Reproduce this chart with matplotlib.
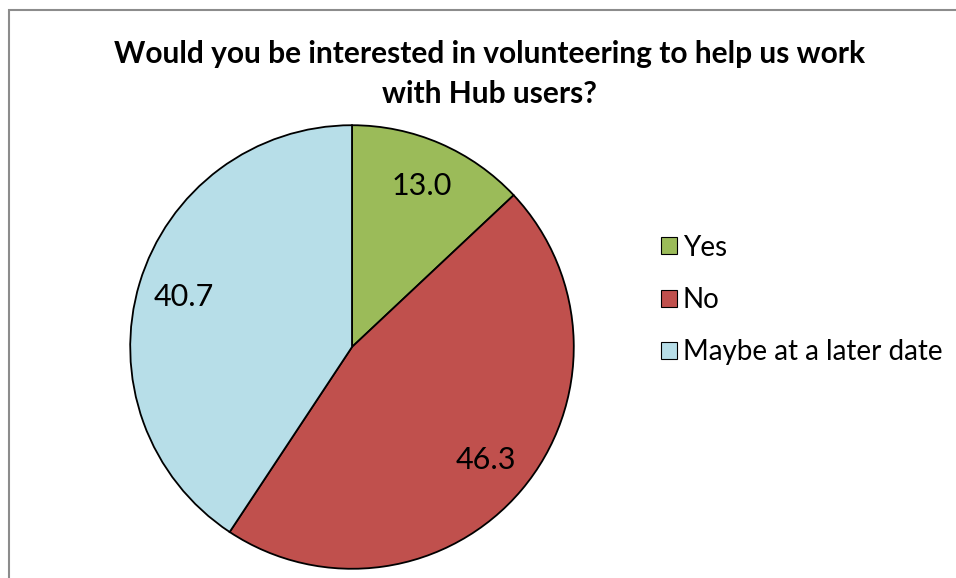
import matplotlib
matplotlib.use("Agg")
import matplotlib.pyplot as plt
from matplotlib.patches import Rectangle, Patch

categories = ["Yes", "No", "Maybe at a later date"]
values = [13.0, 46.3, 40.7]
colors = ["#9BBB59", "#C0504D", "#B7DEE8"]
title = "Would you be interested in volunteering to help us work\nwith Hub users?"

plt.rcParams["font.family"] = ["Lato", "DejaVu Sans"]

W, H = 956, 578
fig = plt.figure(figsize=(W / 100, H / 100), dpi=100)

# outer chart frame (runs off the right and bottom edges)
fig.add_artist(Rectangle((8.5 / W, -0.1), 1.2, 1 - 10.5 / H + 0.1,
                         transform=fig.transFigure, fill=False,
                         edgecolor="#8c8c8c", linewidth=1.5))

cx, cy, r = 352, 347, 224
ax = fig.add_axes([(cx - r) / W, 1 - (cy + r) / H, 2 * r / W, 2 * r / H])
wedges, texts, autotexts = ax.pie(
    values, colors=colors, startangle=90, counterclock=False, radius=1,
    autopct=lambda p: f"{p:.1f}", pctdistance=0.79,
    wedgeprops=dict(edgecolor="black", linewidth=1.3),
    textprops=dict(fontsize=22, color="black"))
ax.set_xlim(-1.01, 1.01)
ax.set_ylim(-1.01, 1.01)
ax.set_aspect("equal")
ax.axis("off")

fig.text(489.5 / W, 1 - 74 / H, title, ha="center", va="center",
         fontsize=21.5, fontweight="bold", linespacing=1.55)

handles = [Patch(facecolor=c, edgecolor="black", linewidth=0.8) for c in colors]
fig.legend(handles, categories, loc="center left",
           bbox_to_anchor=(661 / W, 1 - 300 / H), frameon=False,
           fontsize=20, handlelength=0.58, handleheight=0.58,
           handletextpad=0.2, labelspacing=0.95, borderaxespad=0,
           borderpad=0)

fig.savefig("out.png", dpi=100)
